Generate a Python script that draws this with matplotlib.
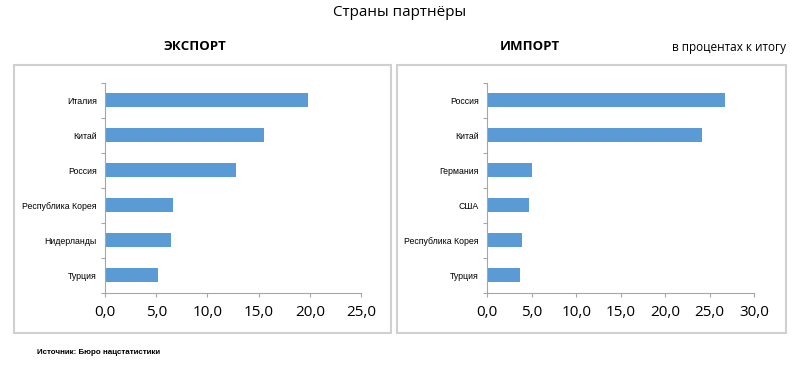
import matplotlib
matplotlib.use("Agg")
import matplotlib.pyplot as plt
from matplotlib.patches import Rectangle
from matplotlib.ticker import FuncFormatter, MultipleLocator, FixedLocator

plt.rcParams['font.family'] = ['Open Sans', 'DejaVu Sans']

export_countries = ["Италия", "Китай", "Россия", "Республика Корея", "Нидерланды", "Турция"]
export_values = [19.8, 15.5, 12.8, 6.6, 6.4, 5.2]
import_countries = ["Россия", "Китай", "Германия", "США", "Республика Корея", "Турция"]
import_values = [26.7, 24.2, 5.0, 4.7, 3.9, 3.7]

title = "Страны партнёры"
export_title = "ЭКСПОРТ"
import_title = "ИМПОРТ"
unit_note = "в процентах к итогу"
source = "Источник: Бюро нацстатистики"

bar_color = "#5B9BD5"
axis_color = "#A6A6A6"

fig = plt.figure(figsize=(8, 3.69), dpi=100)

# panel frames
for x0, x1 in [(14, 391), (397, 786)]:
    fig.patches.append(Rectangle((x0 / 800, 1 - 333 / 369), (x1 - x0) / 800, (333 - 65) / 369,
                                 transform=fig.transFigure, fill=False,
                                 edgecolor="#D0D0D0", linewidth=1.5))

def fmt(v, pos):
    return f"{v:.1f}".replace(".", ",")

def panel(rect, cats, vals, xmax):
    ax = fig.add_axes(rect)
    y = list(range(len(cats)))
    ax.barh(y, vals, height=0.4, color=bar_color)
    ax.set_ylim(len(cats) - 0.5, -0.5)
    ax.set_xlim(0, xmax)
    ax.set_yticks(y)
    ax.set_yticklabels(cats, fontsize=6.3, family=['Liberation Sans', 'DejaVu Sans'])
    ax.yaxis.set_minor_locator(FixedLocator([i - 0.5 for i in range(len(cats) + 1)]))
    ax.tick_params(axis='y', which='major', length=0, pad=6)
    ax.tick_params(axis='y', which='minor', length=3, color=axis_color, width=0.8)
    ax.xaxis.set_major_locator(MultipleLocator(5))
    ax.xaxis.set_major_formatter(FuncFormatter(fmt))
    ax.tick_params(axis='x', length=3, color=axis_color, width=0.8, labelsize=11, pad=6)
    for s in ['top', 'right']:
        ax.spines[s].set_visible(False)
    for s in ['left', 'bottom']:
        ax.spines[s].set_color(axis_color)
        ax.spines[s].set_linewidth(0.8)
    return ax

bottom = 1 - 293 / 369
height = 210.3 / 369
panel([105 / 800, bottom, 256 / 800, height], export_countries, export_values, 25)
panel([487.3 / 800, bottom, 266.7 / 800, height], import_countries, import_values, 30)

fig.text(0.5, 1 - 13 / 369, title, ha='center', va='center', fontsize=11)
fig.text(195 / 800, 1 - 47 / 369, export_title, ha='center', va='center', fontsize=9.5, fontweight='bold')
fig.text(530 / 800, 1 - 47 / 369, import_title, ha='center', va='center', fontsize=9.5, fontweight='bold')
fig.text(786 / 800, 1 - 48 / 369, unit_note, ha='right', va='center', fontsize=8.5)
fig.text(37 / 800, 1 - 353 / 369, source, ha='left', va='center', fontsize=5.8, fontweight='bold',
         family=['Liberation Sans', 'DejaVu Sans'])

fig.savefig("out.png", dpi=100, facecolor='white')
